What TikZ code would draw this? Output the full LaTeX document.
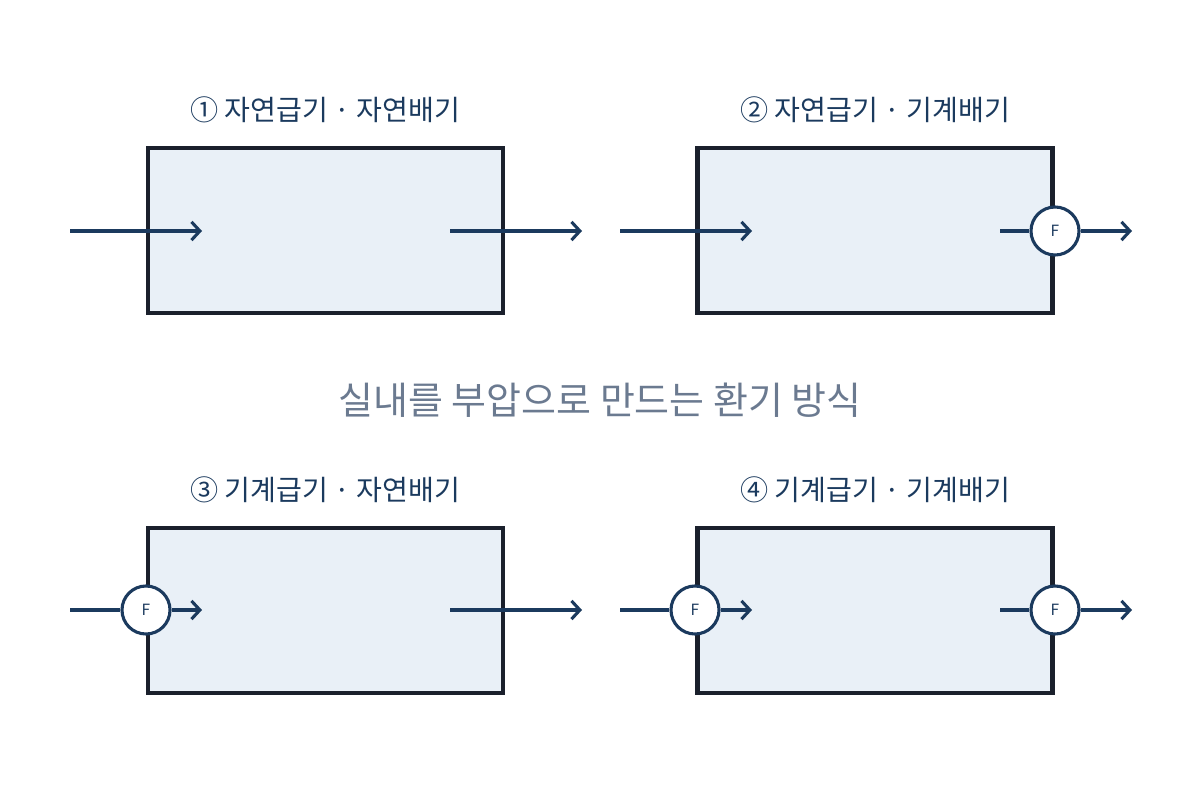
\documentclass[tikz,border=0pt]{standalone}
\usepackage{fontspec}
\setmainfont{Noto Sans CJK KR}
\usetikzlibrary{arrows.meta}
\definecolor{navy}{HTML}{1B3A5E}
\definecolor{frame}{HTML}{1A202C}
\definecolor{room}{HTML}{E9F0F7}
\definecolor{note}{HTML}{6B7A90}
\tikzset{
  room/.style={draw=frame,line width=3.4pt,fill=room,minimum width=8.875cm,minimum height=4.125cm,inner sep=0pt},
  fan/.style={draw=navy,line width=2.2pt,fill=white,circle,minimum size=1.2cm,inner sep=0pt,font=\fontsize{11}{13}\selectfont,text=navy},
  flow/.style={draw=navy,line width=2.2pt,-{Straight Barb[length=6pt,width=13pt,line width=2.2pt]}},
  pipe/.style={draw=navy,line width=2.2pt},
  title/.style={text=navy,font=\fontsize{20}{24}\selectfont}
}
\begin{document}
\begin{tikzpicture}[x=0.025cm,y=-0.025cm]
\useasboundingbox (0,0) rectangle (1200,800);
% rooms
\node[room] (R1) at (325.5,230.5) {};
\node[room] (R2) at (875,230.5) {};
\node[room] (R3) at (325.5,610.5) {};
\node[room] (R4) at (875,610.5) {};
% titles
\node[title] (T1) at (325,110) {① 자연급기 · 자연배기};
\node[title] (T2) at (875,110) {② 자연급기 · 기계배기};
\node[title] (T3) at (325,490) {③ 기계급기 · 자연배기};
\node[title] (T4) at (875,490) {④ 기계급기 · 기계배기};
\node[text=note,font=\fontsize{27}{31}\selectfont] (M) at (600,400) {실내를 부압으로 만드는 환기 방식};
% ends of the flows
\coordinate (a1) at (70,231);   \coordinate (b1) at (202,231);
\coordinate (c1) at (450,231);  \coordinate (d1) at (582,231);
\coordinate (a2) at (620,231);  \coordinate (b2) at (752,231);
\coordinate (c2) at (1000,231); \coordinate (d2) at (1132,231);
\coordinate (a3) at (70,610);   \coordinate (b3) at (202,610);
\coordinate (c3) at (450,610);  \coordinate (d3) at (582,610);
\coordinate (a4) at (620,610);  \coordinate (b4) at (752,610);
\coordinate (c4) at (1000,610); \coordinate (d4) at (1132,610);
% fans
\node[fan] (F2) at (1055,231) {F};
\node[fan] (F3) at (146,610) {F};
\node[fan] (F4a) at (695,610) {F};
\node[fan] (F4b) at (1055,610) {F};
% flows
\draw[flow] (a1) -- (b1);
\draw[flow] (c1) -- (d1);
\draw[flow] (a2) -- (b2);
\draw[pipe] (c2) -- (F2);
\draw[flow] (F2) -- (d2);
\draw[pipe] (a3) -- (F3);
\draw[flow] (F3) -- (b3);
\draw[flow] (c3) -- (d3);
\draw[pipe] (a4) -- (F4a);
\draw[flow] (F4a) -- (b4);
\draw[pipe] (c4) -- (F4b);
\draw[flow] (F4b) -- (d4);
\end{tikzpicture}
\end{document}
